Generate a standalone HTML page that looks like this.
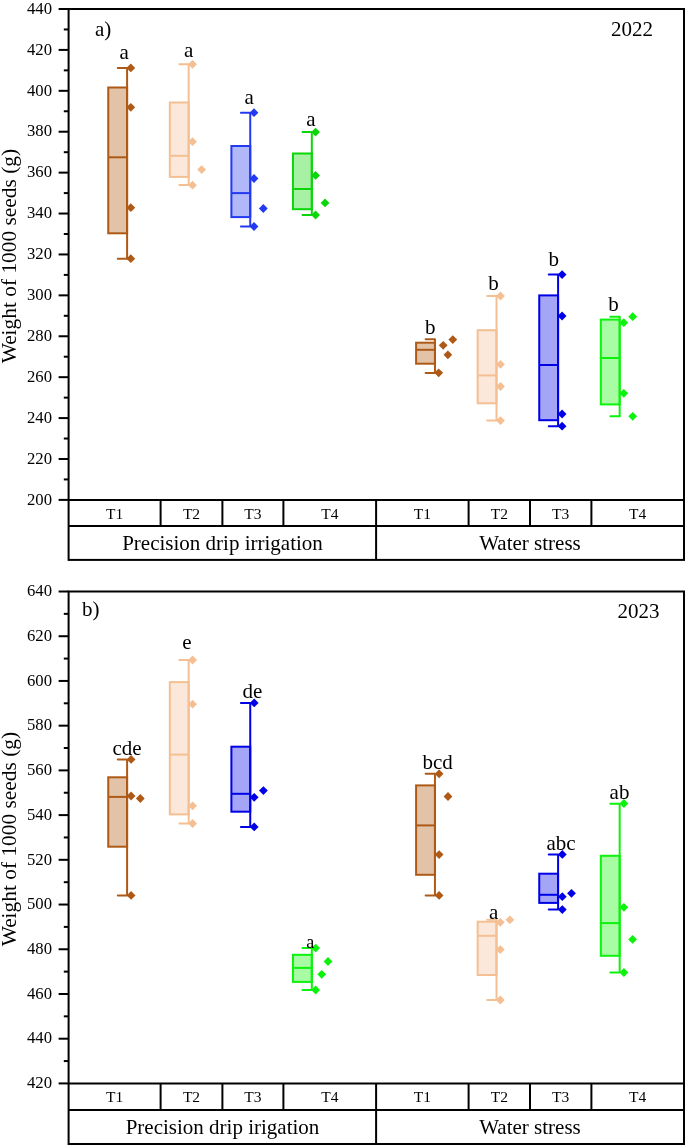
<!DOCTYPE html>
<html><head><meta charset="utf-8"><style>
html,body{margin:0;padding:0;background:#fff;}
body{width:685px;height:1145px;overflow:hidden;}
svg{display:block;font-family:"Liberation Serif",serif;will-change:transform;}
</style></head><body>
<svg width="685" height="1145" viewBox="0 0 685 1145">
<rect width="685" height="1145" fill="#fff"/>
<rect x="68.6" y="9.0" width="615.4" height="550.9" fill="none" stroke="#000" stroke-width="2"/>
<line x1="68.6" y1="499.9" x2="684.0" y2="499.9" stroke="#000" stroke-width="2"/>
<line x1="68.6" y1="526.0" x2="684.0" y2="526.0" stroke="#000" stroke-width="2"/>
<line x1="160.6" y1="499.9" x2="160.6" y2="526.0" stroke="#000" stroke-width="2"/>
<line x1="222.4" y1="499.9" x2="222.4" y2="526.0" stroke="#000" stroke-width="2"/>
<line x1="283.4" y1="499.9" x2="283.4" y2="526.0" stroke="#000" stroke-width="2"/>
<line x1="468.6" y1="499.9" x2="468.6" y2="526.0" stroke="#000" stroke-width="2"/>
<line x1="530.0" y1="499.9" x2="530.0" y2="526.0" stroke="#000" stroke-width="2"/>
<line x1="591.4" y1="499.9" x2="591.4" y2="526.0" stroke="#000" stroke-width="2"/>
<line x1="376.1" y1="499.9" x2="376.1" y2="559.9" stroke="#000" stroke-width="2"/>
<line x1="58.6" y1="499.90" x2="68.6" y2="499.90" stroke="#000" stroke-width="2"/>
<text x="52" y="504.60" font-size="16.7" text-anchor="end">200</text>
<line x1="63.8" y1="479.44" x2="68.6" y2="479.44" stroke="#000" stroke-width="2"/>
<line x1="58.6" y1="458.99" x2="68.6" y2="458.99" stroke="#000" stroke-width="2"/>
<text x="52" y="463.69" font-size="16.7" text-anchor="end">220</text>
<line x1="63.8" y1="438.53" x2="68.6" y2="438.53" stroke="#000" stroke-width="2"/>
<line x1="58.6" y1="418.08" x2="68.6" y2="418.08" stroke="#000" stroke-width="2"/>
<text x="52" y="422.78" font-size="16.7" text-anchor="end">240</text>
<line x1="63.8" y1="397.63" x2="68.6" y2="397.63" stroke="#000" stroke-width="2"/>
<line x1="58.6" y1="377.17" x2="68.6" y2="377.17" stroke="#000" stroke-width="2"/>
<text x="52" y="381.87" font-size="16.7" text-anchor="end">260</text>
<line x1="63.8" y1="356.72" x2="68.6" y2="356.72" stroke="#000" stroke-width="2"/>
<line x1="58.6" y1="336.26" x2="68.6" y2="336.26" stroke="#000" stroke-width="2"/>
<text x="52" y="340.96" font-size="16.7" text-anchor="end">280</text>
<line x1="63.8" y1="315.81" x2="68.6" y2="315.81" stroke="#000" stroke-width="2"/>
<line x1="58.6" y1="295.36" x2="68.6" y2="295.36" stroke="#000" stroke-width="2"/>
<text x="52" y="300.06" font-size="16.7" text-anchor="end">300</text>
<line x1="63.8" y1="274.90" x2="68.6" y2="274.90" stroke="#000" stroke-width="2"/>
<line x1="58.6" y1="254.45" x2="68.6" y2="254.45" stroke="#000" stroke-width="2"/>
<text x="52" y="259.15" font-size="16.7" text-anchor="end">320</text>
<line x1="63.8" y1="233.99" x2="68.6" y2="233.99" stroke="#000" stroke-width="2"/>
<line x1="58.6" y1="213.54" x2="68.6" y2="213.54" stroke="#000" stroke-width="2"/>
<text x="52" y="218.24" font-size="16.7" text-anchor="end">340</text>
<line x1="63.8" y1="193.09" x2="68.6" y2="193.09" stroke="#000" stroke-width="2"/>
<line x1="58.6" y1="172.63" x2="68.6" y2="172.63" stroke="#000" stroke-width="2"/>
<text x="52" y="177.33" font-size="16.7" text-anchor="end">360</text>
<line x1="63.8" y1="152.18" x2="68.6" y2="152.18" stroke="#000" stroke-width="2"/>
<line x1="58.6" y1="131.72" x2="68.6" y2="131.72" stroke="#000" stroke-width="2"/>
<text x="52" y="136.42" font-size="16.7" text-anchor="end">380</text>
<line x1="63.8" y1="111.27" x2="68.6" y2="111.27" stroke="#000" stroke-width="2"/>
<line x1="58.6" y1="90.82" x2="68.6" y2="90.82" stroke="#000" stroke-width="2"/>
<text x="52" y="95.52" font-size="16.7" text-anchor="end">400</text>
<line x1="63.8" y1="70.36" x2="68.6" y2="70.36" stroke="#000" stroke-width="2"/>
<line x1="58.6" y1="49.91" x2="68.6" y2="49.91" stroke="#000" stroke-width="2"/>
<text x="52" y="54.61" font-size="16.7" text-anchor="end">420</text>
<line x1="63.8" y1="29.45" x2="68.6" y2="29.45" stroke="#000" stroke-width="2"/>
<line x1="58.6" y1="9.00" x2="68.6" y2="9.00" stroke="#000" stroke-width="2"/>
<text x="52" y="13.70" font-size="16.7" text-anchor="end">440</text>
<text x="114.6" y="518.5" font-size="15.5" text-anchor="middle">T1</text>
<text x="191.5" y="518.5" font-size="15.5" text-anchor="middle">T2</text>
<text x="252.9" y="518.5" font-size="15.5" text-anchor="middle">T3</text>
<text x="329.8" y="518.5" font-size="15.5" text-anchor="middle">T4</text>
<text x="422.4" y="518.5" font-size="15.5" text-anchor="middle">T1</text>
<text x="499.3" y="518.5" font-size="15.5" text-anchor="middle">T2</text>
<text x="560.7" y="518.5" font-size="15.5" text-anchor="middle">T3</text>
<text x="637.7" y="518.5" font-size="15.5" text-anchor="middle">T4</text>
<text x="222.5" y="550.0" font-size="21" text-anchor="middle">Precision drip irrigation</text>
<text x="530" y="550.0" font-size="21" text-anchor="middle">Water stress</text>
<text x="95.0" y="35.7" font-size="21">a)</text>
<text x="611.0" y="35.8" font-size="21">2022</text>
<text transform="translate(16 256.1) rotate(-90)" font-size="21.4" text-anchor="middle">Weight of 1000 seeds (g)</text>
<rect x="68.6" y="591.5" width="615.4" height="552.5" fill="none" stroke="#000" stroke-width="2"/>
<line x1="68.6" y1="1083.4" x2="684.0" y2="1083.4" stroke="#000" stroke-width="2"/>
<line x1="68.6" y1="1110.1" x2="684.0" y2="1110.1" stroke="#000" stroke-width="2"/>
<line x1="160.6" y1="1083.4" x2="160.6" y2="1110.1" stroke="#000" stroke-width="2"/>
<line x1="222.4" y1="1083.4" x2="222.4" y2="1110.1" stroke="#000" stroke-width="2"/>
<line x1="283.4" y1="1083.4" x2="283.4" y2="1110.1" stroke="#000" stroke-width="2"/>
<line x1="468.6" y1="1083.4" x2="468.6" y2="1110.1" stroke="#000" stroke-width="2"/>
<line x1="530.0" y1="1083.4" x2="530.0" y2="1110.1" stroke="#000" stroke-width="2"/>
<line x1="591.4" y1="1083.4" x2="591.4" y2="1110.1" stroke="#000" stroke-width="2"/>
<line x1="376.1" y1="1083.4" x2="376.1" y2="1144.0" stroke="#000" stroke-width="2"/>
<line x1="58.6" y1="1083.42" x2="68.6" y2="1083.42" stroke="#000" stroke-width="2"/>
<text x="52" y="1088.12" font-size="16.7" text-anchor="end">420</text>
<line x1="63.8" y1="1061.06" x2="68.6" y2="1061.06" stroke="#000" stroke-width="2"/>
<line x1="58.6" y1="1038.70" x2="68.6" y2="1038.70" stroke="#000" stroke-width="2"/>
<text x="52" y="1043.40" font-size="16.7" text-anchor="end">440</text>
<line x1="63.8" y1="1016.34" x2="68.6" y2="1016.34" stroke="#000" stroke-width="2"/>
<line x1="58.6" y1="993.98" x2="68.6" y2="993.98" stroke="#000" stroke-width="2"/>
<text x="52" y="998.68" font-size="16.7" text-anchor="end">460</text>
<line x1="63.8" y1="971.62" x2="68.6" y2="971.62" stroke="#000" stroke-width="2"/>
<line x1="58.6" y1="949.26" x2="68.6" y2="949.26" stroke="#000" stroke-width="2"/>
<text x="52" y="953.96" font-size="16.7" text-anchor="end">480</text>
<line x1="63.8" y1="926.90" x2="68.6" y2="926.90" stroke="#000" stroke-width="2"/>
<line x1="58.6" y1="904.54" x2="68.6" y2="904.54" stroke="#000" stroke-width="2"/>
<text x="52" y="909.24" font-size="16.7" text-anchor="end">500</text>
<line x1="63.8" y1="882.18" x2="68.6" y2="882.18" stroke="#000" stroke-width="2"/>
<line x1="58.6" y1="859.82" x2="68.6" y2="859.82" stroke="#000" stroke-width="2"/>
<text x="52" y="864.52" font-size="16.7" text-anchor="end">520</text>
<line x1="63.8" y1="837.46" x2="68.6" y2="837.46" stroke="#000" stroke-width="2"/>
<line x1="58.6" y1="815.10" x2="68.6" y2="815.10" stroke="#000" stroke-width="2"/>
<text x="52" y="819.80" font-size="16.7" text-anchor="end">540</text>
<line x1="63.8" y1="792.74" x2="68.6" y2="792.74" stroke="#000" stroke-width="2"/>
<line x1="58.6" y1="770.38" x2="68.6" y2="770.38" stroke="#000" stroke-width="2"/>
<text x="52" y="775.08" font-size="16.7" text-anchor="end">560</text>
<line x1="63.8" y1="748.02" x2="68.6" y2="748.02" stroke="#000" stroke-width="2"/>
<line x1="58.6" y1="725.66" x2="68.6" y2="725.66" stroke="#000" stroke-width="2"/>
<text x="52" y="730.36" font-size="16.7" text-anchor="end">580</text>
<line x1="63.8" y1="703.30" x2="68.6" y2="703.30" stroke="#000" stroke-width="2"/>
<line x1="58.6" y1="680.94" x2="68.6" y2="680.94" stroke="#000" stroke-width="2"/>
<text x="52" y="685.64" font-size="16.7" text-anchor="end">600</text>
<line x1="63.8" y1="658.58" x2="68.6" y2="658.58" stroke="#000" stroke-width="2"/>
<line x1="58.6" y1="636.22" x2="68.6" y2="636.22" stroke="#000" stroke-width="2"/>
<text x="52" y="640.92" font-size="16.7" text-anchor="end">620</text>
<line x1="63.8" y1="613.86" x2="68.6" y2="613.86" stroke="#000" stroke-width="2"/>
<line x1="58.6" y1="591.50" x2="68.6" y2="591.50" stroke="#000" stroke-width="2"/>
<text x="52" y="596.20" font-size="16.7" text-anchor="end">640</text>
<text x="114.6" y="1102.2" font-size="15.5" text-anchor="middle">T1</text>
<text x="191.5" y="1102.2" font-size="15.5" text-anchor="middle">T2</text>
<text x="252.9" y="1102.2" font-size="15.5" text-anchor="middle">T3</text>
<text x="329.8" y="1102.2" font-size="15.5" text-anchor="middle">T4</text>
<text x="422.4" y="1102.2" font-size="15.5" text-anchor="middle">T1</text>
<text x="499.3" y="1102.2" font-size="15.5" text-anchor="middle">T2</text>
<text x="560.7" y="1102.2" font-size="15.5" text-anchor="middle">T3</text>
<text x="637.7" y="1102.2" font-size="15.5" text-anchor="middle">T4</text>
<text x="222.5" y="1134.0" font-size="21" text-anchor="middle">Precision drip irigation</text>
<text x="530" y="1134.0" font-size="21" text-anchor="middle">Water stress</text>
<text x="82" y="616.2" font-size="21">b)</text>
<text x="617.5" y="618.2" font-size="21">2023</text>
<text transform="translate(16 839.1) rotate(-90)" font-size="21.4" text-anchor="middle">Weight of 1000 seeds (g)</text>
<rect x="108.25" y="87.5" width="18.849999999999994" height="145.8" fill="#E2C3A7" stroke="#AE5A16" stroke-width="2"/>
<line x1="108.25" y1="157.3" x2="127.1" y2="157.3" stroke="#AE5A16" stroke-width="2"/>
<line x1="127.1" y1="67.9" x2="127.1" y2="258.7" stroke="#AE5A16" stroke-width="2"/>
<line x1="117.77" y1="67.9" x2="127.1" y2="67.9" stroke="#AE5A16" stroke-width="2" stroke-linecap="round"/>
<line x1="117.77" y1="258.7" x2="127.1" y2="258.7" stroke="#AE5A16" stroke-width="2" stroke-linecap="round"/>
<path d="M130.8 63.5L135.2 67.9L130.8 72.3L126.4 67.9Z" fill="#AE5A16"/>
<path d="M130.8 102.9L135.2 107.3L130.8 111.7L126.4 107.3Z" fill="#AE5A16"/>
<path d="M130.8 203.3L135.2 207.7L130.8 212.1L126.4 207.7Z" fill="#AE5A16"/>
<path d="M130.8 254.3L135.2 258.7L130.8 263.1L126.4 258.7Z" fill="#AE5A16"/>
<text x="124.2" y="58.9" font-size="21" text-anchor="middle">a</text>
<rect x="169.82" y="102.5" width="18.849999999999994" height="74.4" fill="#FBE8DA" stroke="#F4BF92" stroke-width="2"/>
<line x1="169.82" y1="155.8" x2="188.67" y2="155.8" stroke="#F4BF92" stroke-width="2"/>
<line x1="188.67" y1="64.3" x2="188.67" y2="185.1" stroke="#F4BF92" stroke-width="2"/>
<line x1="179.34" y1="64.3" x2="188.67" y2="64.3" stroke="#F4BF92" stroke-width="2" stroke-linecap="round"/>
<line x1="179.34" y1="185.1" x2="188.67" y2="185.1" stroke="#F4BF92" stroke-width="2" stroke-linecap="round"/>
<path d="M192.5 59.9L196.9 64.3L192.5 68.7L188.1 64.3Z" fill="#F4BF92"/>
<path d="M192.5 137.3L196.9 141.7L192.5 146.1L188.1 141.7Z" fill="#F4BF92"/>
<path d="M201.6 165.2L206.0 169.6L201.6 174.0L197.2 169.6Z" fill="#F4BF92"/>
<path d="M192.5 180.8L196.9 185.2L192.5 189.6L188.1 185.2Z" fill="#F4BF92"/>
<text x="188.7" y="56.6" font-size="21" text-anchor="middle">a</text>
<rect x="231.39" y="146" width="18.850000000000023" height="71.1" fill="#B0B8FA" stroke="#2339F2" stroke-width="2"/>
<line x1="231.39" y1="193.1" x2="250.24" y2="193.1" stroke="#2339F2" stroke-width="2"/>
<line x1="250.24" y1="112.7" x2="250.24" y2="226.5" stroke="#2339F2" stroke-width="2"/>
<line x1="240.91" y1="112.7" x2="250.24" y2="112.7" stroke="#2339F2" stroke-width="2" stroke-linecap="round"/>
<line x1="240.91" y1="226.5" x2="250.24" y2="226.5" stroke="#2339F2" stroke-width="2" stroke-linecap="round"/>
<path d="M254.0 108.3L258.4 112.7L254.0 117.1L249.6 112.7Z" fill="#2339F2"/>
<path d="M254.0 174.1L258.4 178.5L254.0 182.9L249.6 178.5Z" fill="#2339F2"/>
<path d="M263.3 204.1L267.7 208.5L263.3 212.9L258.9 208.5Z" fill="#2339F2"/>
<path d="M254.0 222.1L258.4 226.5L254.0 230.9L249.6 226.5Z" fill="#2339F2"/>
<text x="249.2" y="104" font-size="21" text-anchor="middle">a</text>
<rect x="292.96" y="153.5" width="18.850000000000023" height="55.69999999999999" fill="#A8F0A4" stroke="#0BD60B" stroke-width="2"/>
<line x1="292.96" y1="189" x2="311.81" y2="189" stroke="#0BD60B" stroke-width="2"/>
<line x1="311.81" y1="132.1" x2="311.81" y2="215" stroke="#0BD60B" stroke-width="2"/>
<line x1="302.49" y1="132.1" x2="311.81" y2="132.1" stroke="#0BD60B" stroke-width="2" stroke-linecap="round"/>
<line x1="302.49" y1="215" x2="311.81" y2="215" stroke="#0BD60B" stroke-width="2" stroke-linecap="round"/>
<path d="M315.6 127.7L320.0 132.1L315.6 136.5L311.2 132.1Z" fill="#0BD60B"/>
<path d="M315.6 171.0L320.0 175.4L315.6 179.8L311.2 175.4Z" fill="#0BD60B"/>
<path d="M325.0 198.5L329.4 202.9L325.0 207.3L320.6 202.9Z" fill="#0BD60B"/>
<path d="M315.6 210.6L320.0 215.0L315.6 219.4L311.2 215.0Z" fill="#0BD60B"/>
<text x="310.8" y="126" font-size="21" text-anchor="middle">a</text>
<rect x="416.1" y="342.7" width="18.849999999999966" height="21.0" fill="#E2C3A7" stroke="#AE5A16" stroke-width="2"/>
<line x1="416.1" y1="349.8" x2="434.95" y2="349.8" stroke="#AE5A16" stroke-width="2"/>
<line x1="434.95" y1="339.2" x2="434.95" y2="372.9" stroke="#AE5A16" stroke-width="2"/>
<line x1="425.62" y1="339.2" x2="434.95" y2="339.2" stroke="#AE5A16" stroke-width="2" stroke-linecap="round"/>
<line x1="425.62" y1="372.9" x2="434.95" y2="372.9" stroke="#AE5A16" stroke-width="2" stroke-linecap="round"/>
<path d="M443.2 340.9L447.6 345.3L443.2 349.7L438.8 345.3Z" fill="#AE5A16"/>
<path d="M452.8 335.2L457.2 339.6L452.8 344.0L448.4 339.6Z" fill="#AE5A16"/>
<path d="M447.9 350.4L452.2 354.8L447.9 359.2L443.5 354.8Z" fill="#AE5A16"/>
<path d="M438.7 368.4L443.1 372.8L438.7 377.2L434.3 372.8Z" fill="#AE5A16"/>
<text x="430.3" y="334.3" font-size="21" text-anchor="middle">b</text>
<rect x="477.67" y="330.2" width="18.849999999999966" height="73.10000000000002" fill="#FBE8DA" stroke="#F4BF92" stroke-width="2"/>
<line x1="477.67" y1="375.4" x2="496.52" y2="375.4" stroke="#F4BF92" stroke-width="2"/>
<line x1="496.52" y1="296" x2="496.52" y2="420.6" stroke="#F4BF92" stroke-width="2"/>
<line x1="487.20" y1="296" x2="496.52" y2="296" stroke="#F4BF92" stroke-width="2" stroke-linecap="round"/>
<line x1="487.20" y1="420.6" x2="496.52" y2="420.6" stroke="#F4BF92" stroke-width="2" stroke-linecap="round"/>
<path d="M500.5 291.6L504.9 296.0L500.5 300.4L496.1 296.0Z" fill="#F4BF92"/>
<path d="M500.5 360.0L504.9 364.4L500.5 368.8L496.1 364.4Z" fill="#F4BF92"/>
<path d="M500.5 382.1L504.9 386.5L500.5 390.9L496.1 386.5Z" fill="#F4BF92"/>
<path d="M500.5 416.2L504.9 420.6L500.5 425.0L496.1 420.6Z" fill="#F4BF92"/>
<text x="493.4" y="290" font-size="21" text-anchor="middle">b</text>
<rect x="539.24" y="295.4" width="18.850000000000023" height="124.80000000000001" fill="#A5A5F8" stroke="#0000E6" stroke-width="2"/>
<line x1="539.24" y1="365" x2="558.09" y2="365" stroke="#0000E6" stroke-width="2"/>
<line x1="558.09" y1="274.6" x2="558.09" y2="426.2" stroke="#0000E6" stroke-width="2"/>
<line x1="548.76" y1="274.6" x2="558.09" y2="274.6" stroke="#0000E6" stroke-width="2" stroke-linecap="round"/>
<line x1="548.76" y1="426.2" x2="558.09" y2="426.2" stroke="#0000E6" stroke-width="2" stroke-linecap="round"/>
<path d="M562.1 270.2L566.5 274.6L562.1 279.0L557.7 274.6Z" fill="#0000E6"/>
<path d="M562.1 311.6L566.5 316.0L562.1 320.4L557.7 316.0Z" fill="#0000E6"/>
<path d="M562.1 409.6L566.5 414.0L562.1 418.4L557.7 414.0Z" fill="#0000E6"/>
<path d="M562.1 421.8L566.5 426.2L562.1 430.6L557.7 426.2Z" fill="#0000E6"/>
<text x="553.7" y="266" font-size="21" text-anchor="middle">b</text>
<rect x="600.81" y="319.6" width="18.850000000000023" height="84.79999999999995" fill="#A8FCA4" stroke="#0CF20C" stroke-width="2"/>
<line x1="600.81" y1="358" x2="619.66" y2="358" stroke="#0CF20C" stroke-width="2"/>
<line x1="619.66" y1="316.7" x2="619.66" y2="416.3" stroke="#0CF20C" stroke-width="2"/>
<line x1="610.33" y1="316.7" x2="619.66" y2="316.7" stroke="#0CF20C" stroke-width="2" stroke-linecap="round"/>
<line x1="610.33" y1="416.3" x2="619.66" y2="416.3" stroke="#0CF20C" stroke-width="2" stroke-linecap="round"/>
<path d="M623.8 318.3L628.2 322.7L623.8 327.1L619.4 322.7Z" fill="#0CF20C"/>
<path d="M632.7 312.3L637.1 316.7L632.7 321.1L628.3 316.7Z" fill="#0CF20C"/>
<path d="M623.8 388.9L628.2 393.3L623.8 397.7L619.4 393.3Z" fill="#0CF20C"/>
<path d="M632.7 411.9L637.1 416.3L632.7 420.7L628.3 416.3Z" fill="#0CF20C"/>
<text x="613.6" y="311.2" font-size="21" text-anchor="middle">b</text>
<rect x="108.25" y="777.3" width="18.849999999999994" height="69.40000000000009" fill="#E2C3A7" stroke="#AE5A16" stroke-width="2"/>
<line x1="108.25" y1="796.9" x2="127.1" y2="796.9" stroke="#AE5A16" stroke-width="2"/>
<line x1="127.1" y1="759.4" x2="127.1" y2="895.4" stroke="#AE5A16" stroke-width="2"/>
<line x1="117.77" y1="759.4" x2="127.1" y2="759.4" stroke="#AE5A16" stroke-width="2" stroke-linecap="round"/>
<line x1="117.77" y1="895.4" x2="127.1" y2="895.4" stroke="#AE5A16" stroke-width="2" stroke-linecap="round"/>
<path d="M131.1 755.0L135.5 759.4L131.1 763.8L126.7 759.4Z" fill="#AE5A16"/>
<path d="M131.1 791.6L135.5 796.0L131.1 800.4L126.7 796.0Z" fill="#AE5A16"/>
<path d="M140.3 794.1L144.7 798.5L140.3 802.9L135.9 798.5Z" fill="#AE5A16"/>
<path d="M131.1 891.0L135.5 895.4L131.1 899.8L126.7 895.4Z" fill="#AE5A16"/>
<text x="127" y="755.1" font-size="21" text-anchor="middle">cde</text>
<rect x="169.82" y="682.1" width="18.849999999999994" height="132.29999999999995" fill="#FBE8DA" stroke="#F4BF92" stroke-width="2"/>
<line x1="169.82" y1="754.6" x2="188.67" y2="754.6" stroke="#F4BF92" stroke-width="2"/>
<line x1="188.67" y1="660" x2="188.67" y2="823.5" stroke="#F4BF92" stroke-width="2"/>
<line x1="179.34" y1="660" x2="188.67" y2="660" stroke="#F4BF92" stroke-width="2" stroke-linecap="round"/>
<line x1="179.34" y1="823.5" x2="188.67" y2="823.5" stroke="#F4BF92" stroke-width="2" stroke-linecap="round"/>
<path d="M192.6 655.6L197.0 660.0L192.6 664.4L188.2 660.0Z" fill="#F4BF92"/>
<path d="M192.6 699.8L197.0 704.2L192.6 708.6L188.2 704.2Z" fill="#F4BF92"/>
<path d="M192.6 801.4L197.0 805.8L192.6 810.2L188.2 805.8Z" fill="#F4BF92"/>
<path d="M192.6 819.1L197.0 823.5L192.6 827.9L188.2 823.5Z" fill="#F4BF92"/>
<text x="186.9" y="649.4" font-size="21" text-anchor="middle">e</text>
<rect x="231.39" y="746.7" width="18.850000000000023" height="65.0" fill="#A5A5F8" stroke="#0000E6" stroke-width="2"/>
<line x1="231.39" y1="793.8" x2="250.24" y2="793.8" stroke="#0000E6" stroke-width="2"/>
<line x1="250.24" y1="702.9" x2="250.24" y2="826.9" stroke="#0000E6" stroke-width="2"/>
<line x1="240.91" y1="702.9" x2="250.24" y2="702.9" stroke="#0000E6" stroke-width="2" stroke-linecap="round"/>
<line x1="240.91" y1="826.9" x2="250.24" y2="826.9" stroke="#0000E6" stroke-width="2" stroke-linecap="round"/>
<path d="M254.2 698.5L258.6 702.9L254.2 707.3L249.8 702.9Z" fill="#0000E6"/>
<path d="M254.2 792.9L258.6 797.3L254.2 801.7L249.8 797.3Z" fill="#0000E6"/>
<path d="M263.4 786.2L267.8 790.6L263.4 795.0L259.0 790.6Z" fill="#0000E6"/>
<path d="M254.2 822.5L258.6 826.9L254.2 831.3L249.8 826.9Z" fill="#0000E6"/>
<text x="252.5" y="697.7" font-size="21" text-anchor="middle">de</text>
<rect x="292.96" y="954.8" width="18.850000000000023" height="27.100000000000023" fill="#A8FCA4" stroke="#0CF20C" stroke-width="2"/>
<line x1="292.96" y1="967.9" x2="311.81" y2="967.9" stroke="#0CF20C" stroke-width="2"/>
<line x1="311.81" y1="948" x2="311.81" y2="990" stroke="#0CF20C" stroke-width="2"/>
<line x1="302.49" y1="948" x2="311.81" y2="948" stroke="#0CF20C" stroke-width="2" stroke-linecap="round"/>
<line x1="302.49" y1="990" x2="311.81" y2="990" stroke="#0CF20C" stroke-width="2" stroke-linecap="round"/>
<path d="M315.7 943.7L320.1 948.1L315.7 952.5L311.3 948.1Z" fill="#0CF20C"/>
<path d="M328.0 957.1L332.4 961.5L328.0 965.9L323.6 961.5Z" fill="#0CF20C"/>
<path d="M321.7 969.9L326.1 974.3L321.7 978.7L317.3 974.3Z" fill="#0CF20C"/>
<path d="M315.7 985.6L320.1 990.0L315.7 994.4L311.3 990.0Z" fill="#0CF20C"/>
<text x="310.3" y="947.5" font-size="18" text-anchor="middle">a</text>
<rect x="416.1" y="785.4" width="18.849999999999966" height="89.39999999999998" fill="#E2C3A7" stroke="#AE5A16" stroke-width="2"/>
<line x1="416.1" y1="825.4" x2="434.95" y2="825.4" stroke="#AE5A16" stroke-width="2"/>
<line x1="434.95" y1="773.8" x2="434.95" y2="895.4" stroke="#AE5A16" stroke-width="2"/>
<line x1="425.62" y1="773.8" x2="434.95" y2="773.8" stroke="#AE5A16" stroke-width="2" stroke-linecap="round"/>
<line x1="425.62" y1="895.4" x2="434.95" y2="895.4" stroke="#AE5A16" stroke-width="2" stroke-linecap="round"/>
<path d="M439.1 769.4L443.5 773.8L439.1 778.2L434.7 773.8Z" fill="#AE5A16"/>
<path d="M448.0 792.1L452.4 796.5L448.0 800.9L443.6 796.5Z" fill="#AE5A16"/>
<path d="M439.1 850.2L443.5 854.6L439.1 859.0L434.7 854.6Z" fill="#AE5A16"/>
<path d="M439.1 891.0L443.5 895.4L439.1 899.8L434.7 895.4Z" fill="#AE5A16"/>
<text x="437.7" y="769.4" font-size="21" text-anchor="middle">bcd</text>
<rect x="477.67" y="921.7" width="18.849999999999966" height="53.299999999999955" fill="#FBE8DA" stroke="#F4BF92" stroke-width="2"/>
<line x1="477.67" y1="935.8" x2="496.52" y2="935.8" stroke="#F4BF92" stroke-width="2"/>
<line x1="496.52" y1="919.8" x2="496.52" y2="1000" stroke="#F4BF92" stroke-width="2"/>
<line x1="487.20" y1="919.8" x2="496.52" y2="919.8" stroke="#F4BF92" stroke-width="2" stroke-linecap="round"/>
<line x1="487.20" y1="1000" x2="496.52" y2="1000" stroke="#F4BF92" stroke-width="2" stroke-linecap="round"/>
<path d="M500.3 917.9L504.7 922.3L500.3 926.7L495.9 922.3Z" fill="#F4BF92"/>
<path d="M509.9 915.4L514.3 919.8L509.9 924.2L505.5 919.8Z" fill="#F4BF92"/>
<path d="M500.3 945.2L504.7 949.6L500.3 954.0L495.9 949.6Z" fill="#F4BF92"/>
<path d="M500.3 995.6L504.7 1000.0L500.3 1004.4L495.9 1000.0Z" fill="#F4BF92"/>
<text x="493.7" y="918.8" font-size="21" text-anchor="middle">a</text>
<rect x="539.24" y="873.7" width="18.850000000000023" height="29.199999999999932" fill="#A5A5F8" stroke="#0000E6" stroke-width="2"/>
<line x1="539.24" y1="894.8" x2="558.09" y2="894.8" stroke="#0000E6" stroke-width="2"/>
<line x1="558.09" y1="854.4" x2="558.09" y2="909.4" stroke="#0000E6" stroke-width="2"/>
<line x1="548.76" y1="854.4" x2="558.09" y2="854.4" stroke="#0000E6" stroke-width="2" stroke-linecap="round"/>
<line x1="548.76" y1="909.4" x2="558.09" y2="909.4" stroke="#0000E6" stroke-width="2" stroke-linecap="round"/>
<path d="M562.3 850.0L566.7 854.4L562.3 858.8L557.9 854.4Z" fill="#0000E6"/>
<path d="M562.3 892.3L566.7 896.7L562.3 901.1L557.9 896.7Z" fill="#0000E6"/>
<path d="M571.5 888.9L575.9 893.3L571.5 897.7L567.1 893.3Z" fill="#0000E6"/>
<path d="M562.3 905.2L566.7 909.6L562.3 914.0L557.9 909.6Z" fill="#0000E6"/>
<text x="561" y="850.4" font-size="21" text-anchor="middle">abc</text>
<rect x="600.81" y="855.8" width="18.850000000000023" height="100.0" fill="#A8FCA4" stroke="#0CF20C" stroke-width="2"/>
<line x1="600.81" y1="923.1" x2="619.66" y2="923.1" stroke="#0CF20C" stroke-width="2"/>
<line x1="619.66" y1="803.7" x2="619.66" y2="972.5" stroke="#0CF20C" stroke-width="2"/>
<line x1="610.33" y1="803.7" x2="619.66" y2="803.7" stroke="#0CF20C" stroke-width="2" stroke-linecap="round"/>
<line x1="610.33" y1="972.5" x2="619.66" y2="972.5" stroke="#0CF20C" stroke-width="2" stroke-linecap="round"/>
<path d="M623.9 799.1L628.3 803.5L623.9 807.9L619.5 803.5Z" fill="#0CF20C"/>
<path d="M623.9 902.9L628.3 907.3L623.9 911.7L619.5 907.3Z" fill="#0CF20C"/>
<path d="M632.6 935.0L637.0 939.4L632.6 943.8L628.2 939.4Z" fill="#0CF20C"/>
<path d="M623.9 968.1L628.3 972.5L623.9 976.9L619.5 972.5Z" fill="#0CF20C"/>
<text x="619.5" y="798.5" font-size="21" text-anchor="middle">ab</text>
</svg>
</body></html>
